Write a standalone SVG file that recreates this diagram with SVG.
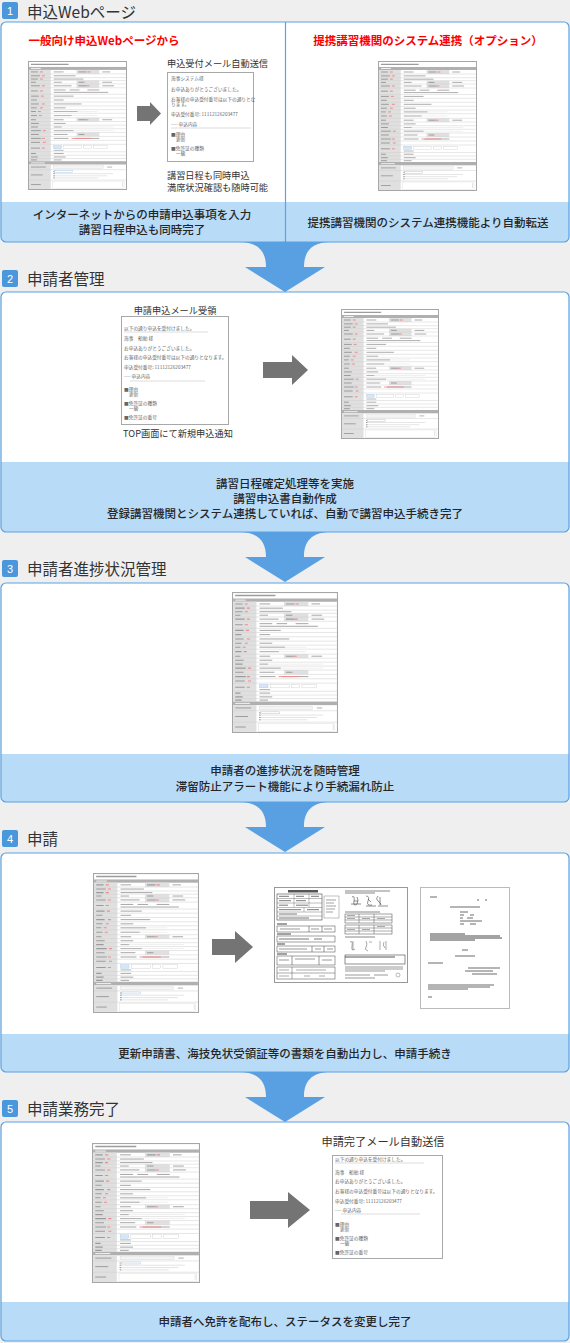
<svg xmlns="http://www.w3.org/2000/svg" xmlns:xlink="http://www.w3.org/1999/xlink" width="570" height="1343" viewBox="0 0 570 1343">
<style>
text{font-family:'Noto Sans CJK JP','Noto Sans',sans-serif}
.hd{font-size:15.5px;fill:#333;dominant-baseline:central}
.num{font-size:11px;fill:#fff;text-anchor:middle;dominant-baseline:central;font-family:'Liberation Sans',sans-serif}
.badge{fill:#4b97dc}
.box{fill:none;stroke:#5aa2e3;stroke-width:1.2}
.panel{fill:#fff}
.band{fill:#b8dbf8}
.bt{font-size:11.5px;fill:#262626;font-weight:500;text-anchor:middle;dominant-baseline:central}
.red{font-size:11.5px;fill:#ff0000;font-weight:bold;text-anchor:middle;dominant-baseline:central}
.lbl{font-size:9.2px;fill:#333;dominant-baseline:central}
.mail{fill:#fff;stroke:#a8a8a8;stroke-width:1}
.mt{font-size:4.7px;fill:#666;dominant-baseline:central}
.sep{stroke:#bbb;stroke-width:0.5}
.big{fill:#59a0e2}
.garr{fill:#747474}
</style>
<defs>
<symbol id="form" viewBox="0 0 100 130" preserveAspectRatio="none">
<rect x="0.5" y="0.5" width="99" height="129" fill="#fff" stroke="#a6a6a6"/>
<path d="M3 3.3h38" stroke="#9c9c9c" stroke-width="1.3"/>
<rect x="1" y="6" width="98" height="3" fill="#b0b0b0"/>
<path d="M3 7.5h10" stroke="#fff" stroke-width="0.8"/>
<rect x="1" y="9" width="22" height="92" fill="#e0e0e0"/>
<rect x="49" y="9" width="23" height="4" fill="#e0e0e0"/>
<rect x="49" y="19.7" width="23" height="3.3" fill="#e0e0e0"/>
<rect x="49" y="23" width="23" height="4" fill="#e0e0e0"/>
<rect x="49" y="57.3" width="23" height="3.7" fill="#e0e0e0"/>
<rect x="49" y="72" width="23" height="4" fill="#e0e0e0"/>
<path d="M1 13H99M1 16.7H99M1 19.7H99M1 23H99M1 27H99M1 33.5H99M1 37.3H99M1 41.3H99M1 45.3H99M1 49H99M1 52.7H99M1 57.3H99M1 61H99M1 64.7H99M1 68.3H99M1 72H99M1 76H99M1 80H99M1 84H99M1 91.5H99M1 95H99M1 98.3H99" stroke="#d0d0d0" stroke-width="0.5"/>
<path d="M3 11h7M3 14.9h9M3 18.2h7M3 21.4h5M3 25h9M3 30.2h7M3 35.4h8M3 39.3h6M3 43.3h8M3 47.2h6M3 50.9h5M3 55h6M3 59.2h5M3 62.9h8M3 66.5h7M3 70.2h10M3 74h8M3 78h10M3 82h9M3 87.8h9M3 93.2h5M3 96.7h7M3 99.7h6M51 11h8M51 21.4h6M51 25h8M51 59.2h7M51 74h6" stroke="#9a9a9a" stroke-width="1"/>
<path d="M12 11h3M14 14.9h3M12 18.2h3M14 25h3M12 30.2h3M13 35.4h3M14 43.3h3M12 47.2h3M10 50.9h3M11 55h3M15 70.2h3M14 78h3M15 82h3M14 87.8h3M60 11h3M59 25h3M58 59.2h3" stroke="#ef8c8c" stroke-width="1"/>
<path d="M26 11h10M75 11h8M26 14.9h22M26 18.2h30M26 21.4h8M75 21.4h10M26 25h18M75 25h12M26 29.2h12M42 29.2h10M60 29.2h12M26 31.6h55M26 35.4h20M26 39.3h10M26 43.3h28M26 47.2h12M26 50.9h24M26 55h18M26 59.2h10M75 59.2h10M26 62.9h12M26 66.5h8M26 70.2h20M26 74h14M26 78h15M47 78h25M26 93.2h10M26 96.7h12M26 99.7h8" stroke="#a3a3a3" stroke-width="0.9"/>
<path d="M44 78h20" stroke="#ef8c8c" stroke-width="0.9"/>
<path d="M26 50.9h44M26 55h44M26 66.5h60M26 70.2h60" stroke="#ccc" stroke-width="0.3" fill="none"/>
<rect x="26" y="85.2" width="8" height="3.2" fill="#d6e6f7" stroke="#9bbde0" stroke-width="0.3"/>
<rect x="36" y="85.2" width="18" height="3.2" fill="#fff" stroke="#bbb" stroke-width="0.3"/>
<rect x="56" y="85.2" width="8" height="3.2" fill="#fff" stroke="#bbb" stroke-width="0.3"/>
<rect x="66" y="85.2" width="14" height="3.2" fill="#fff" stroke="#bbb" stroke-width="0.3"/>
<path d="M26 90h10" stroke="#a3a3a3" stroke-width="0.8"/>
<rect x="1" y="101" width="98" height="3.3" fill="#b0b0b0"/>
<path d="M3 102.7h14" stroke="#fff" stroke-width="0.8"/>
<rect x="1" y="104.3" width="22" height="24.7" fill="#e0e0e0"/>
<path d="M1 109.5H99M1 120H99" stroke="#d0d0d0" stroke-width="0.5"/>
<path d="M3 106.9h15M3 114.8h12M3 124.5h10" stroke="#9a9a9a" stroke-width="0.9"/>
<rect x="26" y="105.6" width="50" height="2.6" fill="#f4f4f4" stroke="#ccc" stroke-width="0.3"/>
<path d="M80 106.9h5" stroke="#a3a3a3" stroke-width="0.8"/>
<rect x="27" y="110.5" width="18" height="1.8" fill="#fff" stroke="#9bbde0" stroke-width="0.4"/>
<path d="M26 113.5h60M26 115.7h54M26 117.8h45" stroke="#ccc" stroke-width="0.5"/>
<path d="M25.5 111.4h1.2M25.5 113.5h1.5M25.5 115.7h1.5M25.5 117.8h1.5" stroke="#888" stroke-width="0.8"/>
<rect x="25" y="121" width="72" height="7.5" fill="#fff" stroke="#ccc" stroke-width="0.3"/>
<path d="M95.5 122v5" stroke="#bbb" stroke-width="0.4"/>
</symbol>
</defs>
<rect width="570" height="1343" fill="#efefef"/>

<g id="section1">
<path class="panel" d="M1 27Q1 22 6 22H564Q569 22 569 27V242H1Z"/>
<path class="band" d="M1 202H569V237Q569 242 564 242H6Q1 242 1 237Z"/>
<rect class="box" x="1" y="22" width="568" height="220" rx="5"/>
<line x1="285.5" y1="22" x2="285.5" y2="242" stroke="#5aa2e3" stroke-width="1.2"/>
<rect class="badge" x="2" y="2" width="16" height="17" rx="2"/>
<text class="num" x="10" y="10.5">1</text>
<text class="hd" x="27" y="10.5">申込Webページ</text>
<text class="red" x="104" y="40">一般向け申込Webページから</text>
<text class="red" x="428" y="40">提携講習機関のシステム連携（オプション）</text>
<use xlink:href="#form" x="28" y="61" width="99" height="129"/>
<text class="lbl" x="167" y="63">申込受付メール自動送信</text>
<rect class="mail" x="167.5" y="72.5" width="86" height="89"/>
<text class="mt" x="171" y="78">海事システム様</text>
<text class="mt" x="171" y="89">お申込ありがとうございました。</text>
<text class="mt" x="171" y="99">お客様の申込受付番号は以下の通りとな</text>
<text class="mt" x="171" y="104">ります。</text>
<text class="mt" x="171" y="114">申込受付番号: 11112126203477</text>
<text class="mt" x="171" y="124">---- 申込内容</text>
<line class="sep" x1="171" y1="128" x2="251" y2="128"/>
<text class="mt" x="171" y="134">■理由</text>
<text class="mt" x="176" y="139">更新</text>
<text class="mt" x="171" y="148">■免許証の種類</text>
<text class="mt" x="176" y="153">一級</text>
<text class="lbl" x="167" y="175">講習日程も同時申込</text>
<text class="lbl" x="167" y="187">満席状況確認も随時可能</text>
<use xlink:href="#form" x="378" y="61" width="99" height="130"/>
<text class="bt" x="142" y="214">インターネットからの申請申込事項を入力</text>
<text class="bt" x="142" y="229">講習日程申込も同時完了</text>
<text class="bt" x="428" y="222">提携講習機関のシステム連携機能より自動転送</text>
</g>

<g id="section2">
<path class="panel" d="M1 297Q1 292 6 292H564Q569 292 569 297V532H1Z"/>
<path class="band" d="M1 462H569V527Q569 532 564 532H6Q1 532 1 527Z"/>
<rect class="box" x="1" y="292" width="568" height="240" rx="5"/>
<rect class="badge" x="2" y="270" width="16" height="17" rx="2"/>
<text class="num" x="10" y="278.5">2</text>
<text class="hd" x="27" y="278">申請者管理</text>
<text class="lbl" x="175" y="310" text-anchor="middle">申請申込メール受領</text>
<rect class="mail" x="121.5" y="316.5" width="107" height="108"/>
<text class="mt" x="124" y="328">以下の通り申込を受付けました。</text>
<line class="sep" x1="124" y1="332" x2="208" y2="332"/>
<text class="mt" x="124" y="338">海事　船舶 様</text>
<text class="mt" x="124" y="348">お申込ありがとうございました。</text>
<text class="mt" x="124" y="357">お客様の申込受付番号は以下の通りとなります。</text>
<text class="mt" x="124" y="367">申込受付番号: 11112126203477</text>
<text class="mt" x="124" y="376">---- 申込内容</text>
<line class="sep" x1="130" y1="381" x2="205" y2="381"/>
<text class="mt" x="124" y="388.5">■理由</text>
<text class="mt" x="129" y="393.8">更新</text>
<text class="mt" x="124" y="403">■免許証の種類</text>
<text class="mt" x="129" y="408.3">一級</text>
<text class="mt" x="124" y="417">■免許証の番号</text>
<text class="lbl" x="178" y="433" text-anchor="middle">TOP画面にて新規申込通知</text>
<use xlink:href="#form" x="341" y="309" width="98" height="130"/>
<text class="bt" x="285" y="483">講習日程確定処理等を実施</text>
<text class="bt" x="285" y="498">講習申込書自動作成</text>
<text class="bt" x="285" y="513">登録講習機関とシステム連携していれば、自動で講習申込手続き完了</text>
</g>

<g id="section3">
<path class="panel" d="M1 588Q1 583 6 583H564Q569 583 569 588V802H1Z"/>
<path class="band" d="M1 754H569V797Q569 802 564 802H6Q1 802 1 797Z"/>
<rect class="box" x="1" y="583" width="568" height="219" rx="5"/>
<rect class="badge" x="2" y="560" width="16" height="17" rx="2"/>
<text class="num" x="10" y="568.5">3</text>
<text class="hd" x="27" y="568">申請者進捗状況管理</text>
<use xlink:href="#form" x="232" y="592" width="106" height="141"/>
<text class="bt" x="285" y="770">申請者の進捗状況を随時管理</text>
<text class="bt" x="285" y="786">滞留防止アラート機能により手続漏れ防止</text>
</g>

<g id="section4">
<path class="panel" d="M1 858Q1 853 6 853H564Q569 853 569 858V1072H1Z"/>
<path class="band" d="M1 1034H569V1067Q569 1072 564 1072H6Q1 1072 1 1067Z"/>
<rect class="box" x="1" y="853" width="568" height="219" rx="5"/>
<rect class="badge" x="2" y="830" width="16" height="17" rx="2"/>
<text class="num" x="10" y="838.5">4</text>
<text class="hd" x="27" y="838">申請</text>
<use xlink:href="#form" x="93" y="873" width="106" height="140"/>
<g id="doc1" transform="translate(274,887)">
<rect x="0.5" y="0.5" width="133" height="95" fill="#fff" stroke="#999"/>
<rect x="14" y="3" width="30" height="2.5" fill="#555"/>
<rect x="3" y="7" width="45" height="26" fill="none" stroke="#444" stroke-width="0.6"/>
<path d="M3 11.5h45M3 16h45M3 20.5h45M3 25h45M3 29h45M20 7v13M35 7v13M30 20.5v4.5" stroke="#555" stroke-width="0.4"/>
<path d="M5 9.3h10M22 9.3h8M37 9.3h8M5 13.7h12M22 13.7h10M5 18.2h9M22 18.2h12M5 22.7h22M33 22.7h12M5 27h18M5 31h30" stroke="#555" stroke-width="0.8"/>
<rect x="50" y="9" width="15" height="22" fill="none" stroke="#666" stroke-width="0.4"/>
<path d="M52 13h10M52 16h8M52 19h10M52 22h9M52 25h7" stroke="#666" stroke-width="0.6"/>
<path d="M3 37h10M3 47h14M3 57h8M3 67h10" stroke="#444" stroke-width="1"/>
<rect x="3" y="39" width="58" height="6" fill="none" stroke="#444" stroke-width="0.5"/>
<path d="M35 39v6M48 39v6M6 42h20M37 42h8M50 42h8" stroke="#555" stroke-width="0.6"/>
<rect x="3" y="49" width="58" height="6" fill="none" stroke="#444" stroke-width="0.5"/>
<path d="M5 52h30M40 52h8" stroke="#555" stroke-width="0.8"/>
<rect x="3" y="59" width="58" height="6" fill="none" stroke="#444" stroke-width="0.5"/>
<path d="M38 59v6M50 59v6M5 62h28M41 62h6M53 62h6" stroke="#555" stroke-width="0.6"/>
<rect x="3" y="69" width="58" height="9" fill="none" stroke="#444" stroke-width="0.5"/>
<path d="M18 69v9M45 69v9M5 73h10M21 72h20M48 73h10" stroke="#555" stroke-width="0.6"/>
<rect x="3" y="80" width="58" height="12" fill="none" stroke="#444" stroke-width="0.5"/>
<path d="M3 86h58M18 80v12M5 83h10M22 83h30M5 89h10M30 89h6M45 89h6" stroke="#555" stroke-width="0.5"/>
<path d="M71 4h45M71 6h30" stroke="#555" stroke-width="0.7"/>
<path d="M78 10q3 -2 2 4t3 3q2 -4 0 -7M80 14h4M92 9q4 0 2 5t4 4M94 12l3 3M104 9q-3 3 0 5t3 4M106 10v8M77 17h10M92 19h10M104 19h10" stroke="#444" stroke-width="0.6" fill="none"/>
<path d="M71 25h35" stroke="#555" stroke-width="0.7"/>
<rect x="71" y="27" width="47" height="9" fill="none" stroke="#444" stroke-width="0.5"/>
<path d="M71 30h47M71 33h47M85 27v9M100 27v9M73 31.5h8M88 31.5h8M103 31.5h8M73 28.5h8" stroke="#555" stroke-width="0.5"/>
<rect x="71" y="38" width="47" height="9" fill="none" stroke="#444" stroke-width="0.5"/>
<path d="M71 41h47M71 44h47M85 38v9M100 38v9M73 42.5h8M88 42.5h8M103 39.5h8" stroke="#555" stroke-width="0.5"/>
<path d="M71 50h30" stroke="#555" stroke-width="0.7"/>
<path d="M76 55q3 -2 2 4t3 3M79 54v9M92 54q2 3 0 6t2 4M95 55h3M106 54v9M110 55q-2 3 1 6M112 54v9" stroke="#555" stroke-width="0.5" fill="none"/>
<rect x="71" y="68" width="60" height="9" fill="none" stroke="#444" stroke-width="0.6"/>
<path d="M71 70h50" stroke="#444" stroke-width="0.9"/>
<path d="M71 80h58M71 82h58M71 84h40M71 88h25M100 88h14M71 91h30" stroke="#555" stroke-width="0.6"/>
<circle cx="124" cy="88" r="2" fill="none" stroke="#555" stroke-width="0.4"/>
</g>
<g id="doc2" transform="translate(420,887)">
<rect x="0.5" y="0.5" width="89" height="121" fill="#fff" stroke="#bbb"/>
<path d="M10 10h7M57 13h2M65 13h2M30 20h30" stroke="#444" stroke-width="0.8"/>
<path d="M40 25h8M40 28h4M50 28h4M40 31h3M47 31h6M40 34h22M40 37h4M50 37h6" stroke="#444" stroke-width="0.8"/>
<path d="M10 47h35M10 49h70M10 51h72M10 53h45" stroke="#333" stroke-width="0.9"/>
<path d="M42 63h6M35 69h20M8 76h15M48 81h32M45 84h28M52 87h25" stroke="#444" stroke-width="0.8"/>
<path d="M8 98h66M8 100h62M8 102h40M8 110h4" stroke="#444" stroke-width="0.8"/>
</g>
<text class="bt" x="285" y="1053">更新申請書、海技免状受領証等の書類を自動出力し、申請手続き</text>
</g>

<g id="section5">
<path class="panel" d="M1 1127Q1 1122 6 1122H564Q569 1122 569 1127V1302H1Z"/>
<path class="band" d="M1 1302H569V1336Q569 1341 564 1341H6Q1 1341 1 1336Z"/>
<rect class="box" x="1" y="1122" width="568" height="219" rx="5"/>
<rect class="badge" x="2" y="1100" width="16" height="17" rx="2"/>
<text class="num" x="10" y="1108.5">5</text>
<text class="hd" x="27" y="1108">申請業務完了</text>
<use xlink:href="#form" x="92" y="1143" width="108" height="140"/>
<text class="lbl" x="383" y="1141" text-anchor="middle" style="font-size:11.2px">申請完了メール自動送信</text>
<rect class="mail" x="332.5" y="1155.5" width="110" height="103"/>
<text class="mt" x="335" y="1159">以下の通り申込を受付けました。</text>
<line class="sep" x1="335" y1="1163" x2="424" y2="1163"/>
<text class="mt" x="335" y="1172">海事　船舶 様</text>
<text class="mt" x="335" y="1181">お申込ありがとうございました。</text>
<text class="mt" x="335" y="1191">お客様の申込受付番号は以下の通りとなります。</text>
<text class="mt" x="335" y="1201">申込受付番号: 11112126203477</text>
<text class="mt" x="335" y="1210">---- 申込内容</text>
<line class="sep" x1="341" y1="1214" x2="420" y2="1214"/>
<text class="mt" x="335" y="1223.5">■理由</text>
<text class="mt" x="340" y="1228.8">更新</text>
<text class="mt" x="335" y="1238">■免許証の種類</text>
<text class="mt" x="340" y="1243.3">一級</text>
<text class="mt" x="335" y="1252">■免許証の番号</text>
<text class="bt" x="285" y="1321">申請者へ免許を配布し、ステータスを変更し完了</text>
</g>

<g id="connectors">
<path class="big" d="M239 242C259 242 266 252 266 267H245L285 292L325 267H304C304 252 311 242 331 242Z"/>
<path class="big" d="M239 532C259 532 266 542 266 557H245L285 582L325 557H304C304 542 311 532 331 532Z"/>
<path class="big" d="M239 802C259 802 266 812 266 827H245L285 852L325 827H304C304 812 311 802 331 802Z"/>
<path class="big" d="M239 1072C259 1072 266 1082 266 1097H245L285 1122L325 1097H304C304 1082 311 1072 331 1072Z"/>
<path class="garr" d="M137 106H150V102L161 113.5L150 125V121H137Z"/>
<path class="garr" d="M263 362H292V355L308 370L292 385V378H263Z"/>
<path class="garr" d="M212 939H235V931L253 947L235 963V955H212Z"/>
<path class="garr" d="M250 1201H288V1192L310 1210L288 1228V1219H250Z"/>
</g>
</svg>
